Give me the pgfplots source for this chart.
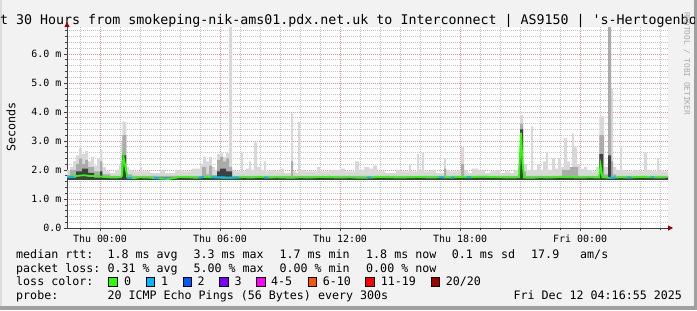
\documentclass[border=0pt]{standalone}
\usepackage{pgfplots}
\pgfplotsset{compat=1.18}
\usepackage{pgfplotstable}
\usetikzlibrary{arrows.meta}
\usepackage{fontspec}
\setmainfont{DejaVu Sans Mono}
\definecolor{bg}{HTML}{F2F2F2}
\definecolor{bordark}{HTML}{A0A0A0}
\definecolor{borlight}{HTML}{DCDCDC}
\definecolor{majgrid}{HTML}{F08C8C}
\definecolor{mingrid}{HTML}{C4C4C4}
\definecolor{arrowred}{HTML}{990000}
\definecolor{smokeL}{HTML}{D8D8D8}
\definecolor{smokeM}{HTML}{ABABAB}
\definecolor{smokeD}{HTML}{404040}
\definecolor{wmark}{HTML}{A8A8A8}
\definecolor{cA}{HTML}{26FF00}
\definecolor{cB}{HTML}{00B8FF}
\definecolor{cC}{HTML}{0059FF}
\definecolor{cD}{HTML}{7E00FF}
\definecolor{cE}{HTML}{FF00FF}
\definecolor{cF}{HTML}{FF5500}
\definecolor{cG}{HTML}{FF0000}
\definecolor{cH}{HTML}{A10000}
\newcommand\lf{\fontsize{11.7}{13}\selectfont}
\newcommand\tf{\fontsize{10}{12}\selectfont}
\newcommand\sw[1]{{\setlength\fboxsep{0pt}\setlength\fboxrule{1bp}\fcolorbox{black}{#1}{\rule{0pt}{7.5bp}\rule{7.5bp}{0pt}}}}

% smoke envelopes: first and last rows are the lower edge of the smoke (1.66 m)
\pgfplotstableread{
h v
-1.65 1.66
-1.65 2.0
-1.5 2.1
-1.35 2.3
-1.2 2.5
-1.05 2.75
-0.9 2.55
-0.75 2.65
-0.6 2.3
-0.45 2.45
-0.3 2.15
-0.15 2.4
0.0 2.7
0.12 2.1
0.3 1.95
0.5 1.9
0.75 2.0
0.95 2.2
1.05 2.95
1.12 3.67
1.32 2.1
1.45 2.0
1.65 1.95
2.0 2.1
2.1 1.95
2.5 1.9
3.0 2.0
3.25 1.9
3.75 2.0
4.1 1.95
4.6 2.05
5.0 2.2
5.15 2.45
5.3 2.3
5.45 2.45
5.6 2.1
5.75 2.0
5.85 2.55
6.0 2.6
6.15 2.45
6.3 2.6
6.45 7.5
6.6 2.0
6.75 1.95
7.05 2.6
7.15 1.95
7.3 2.05
7.45 2.3
7.55 2.0
7.7 2.95
7.85 2.1
8.05 2.0
8.2 2.3
8.3 1.95
8.5 2.0
8.75 1.95
9.0 2.05
9.2 1.9
9.55 3.95
9.65 1.95
9.8 1.9
9.9 3.65
10.0 2.0
10.25 1.95
10.85 2.1
11.0 1.95
11.5 2.0
12.0 2.05
12.25 1.95
12.75 2.3
12.95 2.0
13.2 2.1
13.45 2.05
13.65 2.15
13.85 1.95
14.25 1.9
14.8 2.0
15.05 1.95
15.45 2.2
15.55 1.95
15.85 2.55
15.95 2.0
16.1 2.6
16.2 1.95
16.5 2.0
16.8 1.9
17.2 2.4
17.3 2.0
17.5 1.95
17.9 2.0
18.05 2.8
18.2 2.0
18.4 1.9
18.6 2.05
18.9 2.0
19.25 1.9
19.5 1.95
19.75 2.0
20.0 1.9
20.25 1.95
20.5 1.9
20.7 2.0
20.9 2.2
21.0 3.9
21.15 2.2
21.35 2.0
21.55 3.5
21.65 2.0
21.85 2.2
22.0 2.0
22.15 2.3
22.3 2.6
22.4 2.0
22.6 2.4
22.75 2.05
22.9 2.4
23.05 2.1
23.2 3.1
23.35 2.3
23.5 2.1
23.6 3.25
23.7 2.8
23.85 2.2
24.0 2.05
24.2 2.1
24.35 2.0
24.6 1.95
24.8 2.1
24.97 3.85
25.2 2.1
25.4 7.5
25.55 4.8
25.65 2.1
25.8 2.0
26.0 2.8
26.1 2.0
26.35 1.95
26.65 2.0
26.9 1.95
27.2 2.6
27.35 2.0
27.6 1.95
27.85 2.4
27.95 2.0
28.1 1.95
28.4 1.95
28.4 1.66
}\smokelight

\pgfplotstableread{
h v
-1.65 1.66
-1.65 1.82
-1.5 2.0
-1.2 2.2
-1.05 2.4
-0.9 2.2
-0.75 2.35
-0.6 2.1
-0.3 1.95
0.0 2.3
0.12 1.85
0.5 1.8
1.05 2.3
1.12 3.2
1.32 1.85
1.6 1.8
5.1 2.1
5.3 1.85
5.45 2.15
5.6 1.82
5.85 2.35
6.0 2.45
6.15 2.3
6.3 2.4
6.45 2.1
6.6 1.8
9.55 2.3
9.65 1.8
17.2 2.05
17.3 1.8
18.05 2.2
18.2 1.8
21.0 3.6
21.15 1.95
21.3 1.8
23.1 2.0
23.5 2.1
23.9 1.8
24.97 3.2
25.2 1.85
25.4 7.5
25.55 2.3
25.65 1.85
25.8 1.8
28.4 1.8
28.4 1.66
}\smokemid

\pgfplotstableread{
h v
-1.65 1.66
-1.65 1.74
-1.2 1.95
-0.9 2.05
-0.6 1.9
-0.3 1.74
0.0 1.95
0.12 1.74
1.1 2.5
1.3 1.74
5.85 1.95
6.0 2.05
6.3 1.95
6.6 1.74
21.0 3.4
21.15 1.74
24.97 2.55
25.15 1.74
25.4 2.5
25.55 1.74
28.4 1.74
28.4 1.66
}\smokedark

\pgfplotstableread{
h v
-1.65 1.76
-1.4 1.78
-1.1 1.80
-0.8 1.82
-0.5 1.79
-0.2 1.80
0.1 1.77
0.4 1.75
0.7 1.74
1.0 1.75
1.1 1.80
1.17 2.46
1.3 2.0
1.38 1.74
1.7 1.72
2.0 1.75
2.4 1.74
2.8 1.72
3.1 1.70
3.4 1.69
3.7 1.72
4.0 1.76
4.4 1.75
4.8 1.73
5.2 1.76
5.6 1.75
6.0 1.74
6.4 1.73
6.8 1.74
7.2 1.75
7.6 1.74
8.0 1.76
8.4 1.74
8.8 1.75
9.2 1.74
9.6 1.73
10.0 1.75
10.5 1.74
11.0 1.76
11.5 1.75
12.0 1.74
12.5 1.75
13.0 1.73
13.5 1.74
14.0 1.76
14.5 1.75
15.0 1.74
15.5 1.75
16.0 1.76
16.5 1.74
17.0 1.75
17.5 1.74
18.0 1.76
18.5 1.75
19.0 1.77
19.5 1.76
20.0 1.75
20.5 1.74
20.95 1.75
21.05 3.29
21.12 2.29
21.2 1.74
21.6 1.73
22.0 1.75
22.5 1.74
23.0 1.76
23.5 1.75
24.0 1.74
24.5 1.75
24.95 1.74
25.03 2.17
25.12 1.75
25.5 1.73
26.0 1.75
26.5 1.74
27.0 1.76
27.5 1.75
28.0 1.74
28.35 1.75
}\median

\begin{document}
\begin{tikzpicture}[x=1bp,y=1bp]
\fill[bg] (0,0) rectangle (697,-310);
\fill[borlight] (0,0) rectangle (2,-310);
\fill[bordark] (694,0) rectangle (697,-310);
\fill[bordark] (0,-306) rectangle (697,-310);

\begin{scope}
\clip (0,0) rectangle (694,-306);
\node[anchor=base, font=\fontsize{13.35}{15}\selectfont, inner sep=0] at (348.5,-24)
  {Last 30 Hours from smokeping-nik-ams01.pdx.net.uk to Interconnect | AS9150 | \textquotesingle s-Hertogenbosch};
\end{scope}

\begin{axis}[
  at={(67bp,-228bp)}, anchor=south west, scale only axis,
  width=601bp, height=201bp,
  xmin=-1.65, xmax=28.4, ymin=0, ymax=6.93,
  axis background/.style={fill=white},
  axis lines=left,
  axis line style={black!75, line width=0.8bp, shorten >=-5bp,
    -{Triangle[length=5bp,width=5bp,color=arrowred,fill=arrowred]}},
  xtick={0,6,12,18,24},
  xticklabels={Thu 00:00,Thu 06:00,Thu 12:00,Thu 18:00,Fri 00:00},
  minor xtick={-1,1,2,3,4,5,7,8,9,10,11,13,14,15,16,17,19,20,21,22,23,25,26,27,28},
  ytick={0,1,2,3,4,5,6},
  yticklabels={0.0,1.0 m,2.0 m,3.0 m,4.0 m,5.0 m,6.0 m},
  minor ytick={0.2,0.4,0.6,0.8,1.2,1.4,1.6,1.8,2.2,2.4,2.6,2.8,3.2,3.4,3.6,3.8,4.2,4.4,4.6,4.8,5.2,5.4,5.6,5.8,6.2,6.4,6.6,6.8},
  grid=both,
  major grid style={majgrid, dash pattern=on 1bp off 1bp, line width=0.8bp},
  minor grid style={mingrid, dash pattern=on 1bp off 1bp, line width=0.8bp},
  tick align=outside,
  major tick length=3bp, minor tick length=2bp,
  tick style={black!75, line width=0.6bp},
  ticklabel style={font=\tf},
  xticklabel style={yshift=0bp},
  yticklabel style={anchor=east, xshift=1bp},
]
\addplot[fill=smokeL, draw=none, const plot] table[x=h,y=v] {\smokelight};
\addplot[fill=smokeM, draw=none, const plot] table[x=h,y=v] {\smokemid};
\addplot[fill=smokeD, draw=none, const plot] table[x=h,y=v] {\smokedark};
\addplot[cA, line width=1.8bp] table[x=h,y=v] {\median};
\addplot[cB, line width=1.8bp, unbounded coords=jump] coordinates {
(-1.65,1.75) (-1.3,1.76) (-1.29,nan)
(1.35,1.73) (1.6,1.72) (1.61,nan)
(2.7,1.72) (2.95,1.72) (2.96,nan)
(3.2,1.70) (3.35,1.69) (3.36,nan)
(4.95,1.74) (5.2,1.76) (5.21,nan)
(5.55,1.75) (6.95,1.74) (6.96,nan)
(8.2,1.74) (8.4,1.74) (8.41,nan)
(13.35,1.74) (13.55,1.74) (13.56,nan)
(16.95,1.75) (17.2,1.75) (17.21,nan)
(17.55,1.74) (17.7,1.74) (17.71,nan)
(18.35,1.75) (18.55,1.75) (18.56,nan)
(25.45,1.73) (25.8,1.74) (25.81,nan)
(26.35,1.74) (26.55,1.74) (26.56,nan)
(27.55,1.75) (27.7,1.75)
};
\end{axis}

\node[rotate=90, font=\lf] at (11,-127) {Seconds};
\node[rotate=-90, font=\fontsize{7.8}{9}\selectfont, text=wmark] at (687,-63.5) {RRDTOOL / TOBI OETIKER};

\begin{scope}[every node/.style={anchor=base west, inner sep=0, font=\lf}]
\node at (16,-258) {median rtt:};
\node at (107.3,-258) {1.8 ms avg};
\node at (193.3,-258) {3.3 ms max};
\node at (279.3,-258) {1.7 ms min};
\node at (366,-258) {1.8 ms now};
\node at (451.7,-258) {0.1 ms sd};
\node at (531,-258) {17.9};
\node at (580,-258) {am/s};
\node at (16,-272) {packet loss:};
\node at (107.3,-272) {0.31 \% avg};
\node at (193.3,-272) {5.00 \% max};
\node at (279.3,-272) {0.00 \% min};
\node at (366,-272) {0.00 \% now};
\node at (16,-285.5) {loss color:};
\node at (124,-285.5) {0};
\node at (161,-285.5) {1};
\node at (197.3,-285.5) {2};
\node at (234.3,-285.5) {3};
\node at (271,-285.5) {4-5};
\node at (322.7,-285.5) {6-10};
\node at (380.7,-285.5) {11-19};
\node at (445.7,-285.5) {20/20};
\node at (16,-299.5) {probe:};
\node at (107.3,-299.5) {20 ICMP Echo Pings (56 Bytes) every 300s};
\node at (513.3,-299.5) {Fri Dec 12 04:16:55 2025};
\end{scope}
\begin{scope}[every node/.style={anchor=south west, inner sep=0}]
\node at (108,-287) {\sw{cA}};
\node at (145.5,-287) {\sw{cB}};
\node at (182.5,-287) {\sw{cC}};
\node at (219,-287) {\sw{cD}};
\node at (256,-287) {\sw{cE}};
\node at (307.5,-287) {\sw{cF}};
\node at (365,-287) {\sw{cG}};
\node at (430.5,-287) {\sw{cH}};
\end{scope}
\pgfresetboundingbox
\useasboundingbox (0,0) rectangle (697,-310);
\end{tikzpicture}
\end{document}
